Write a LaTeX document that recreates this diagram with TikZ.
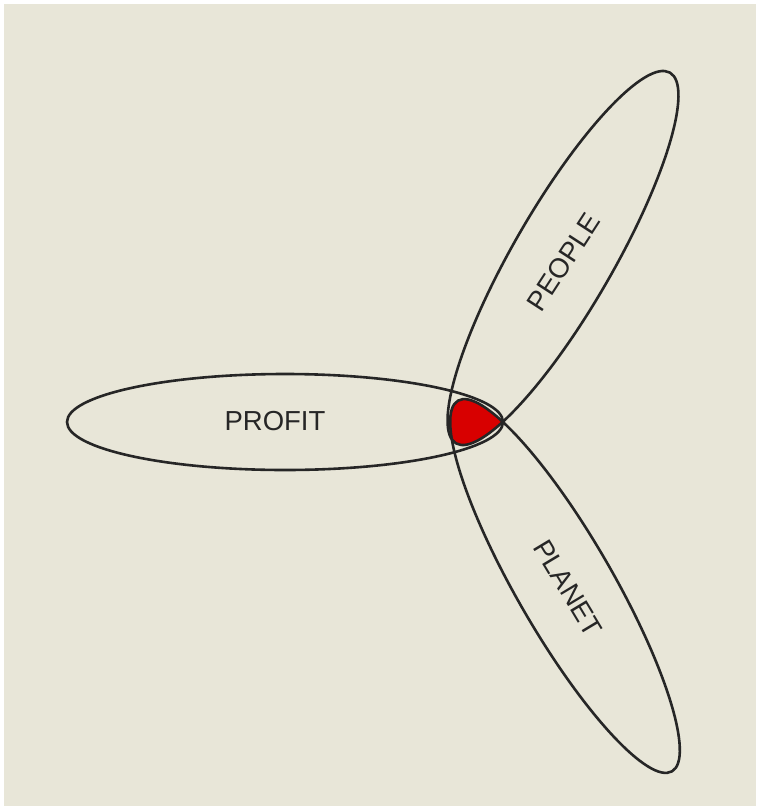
\documentclass[tikz,border=0pt]{standalone}
\usepackage{fontspec}
\setmainfont{Liberation Sans}
\usepackage{xcolor}
\usepackage{tikz}
\definecolor{paper}{RGB}{232,230,216}
\definecolor{ink}{RGB}{38,38,38}
\definecolor{coreRed}{RGB}{216,0,0}

\begin{document}
\begin{tikzpicture}[x=1pt, y=-1pt,
  petal/.style={draw=ink, line width=2.6pt},
  word/.style={text=ink, font=\fontsize{27.5}{30}\selectfont, inner sep=0pt},
  overlap/.style={fill=coreRed}]

  \useasboundingbox (0,0) rectangle (760,809);
  \fill[paper] (4,4) rectangle (756,806);

  \coordinate (profit) at (285,422);
  \coordinate (people) at (563,258);
  \coordinate (planet) at (565,586);

  % where all three meet
  \begin{scope}
    \clip (profit) circle [x radius=218pt, y radius=48pt];
    \clip (people) circle [x radius=214pt, y radius=50pt, rotate=60];
    \fill[overlap] (planet) circle [x radius=214pt, y radius=48pt, rotate=-60];
  \end{scope}

  \draw[petal] (profit) circle [x radius=218pt, y radius=48pt];
  \draw[petal] (people) circle [x radius=214pt, y radius=50pt, rotate=60];
  \draw[petal] (planet) circle [x radius=214pt, y radius=48pt, rotate=-60];

  \node[word] (profitlbl) at (275,421) {PROFIT};
  \node[word, rotate=57] (peoplelbl) at (564,262) {PEOPLE};
  \node[word, rotate=-59] (planetlbl) at (568,588) {PLANET};
\end{tikzpicture}
\end{document}
